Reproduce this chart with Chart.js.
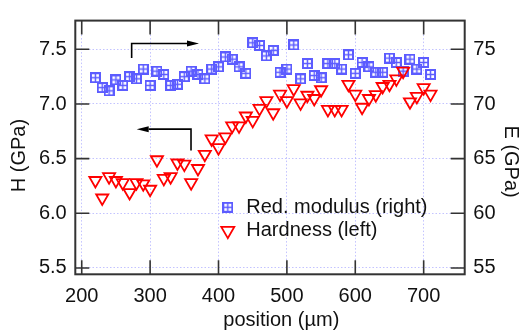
<!DOCTYPE html>
<html><head><meta charset="utf-8">
<script src="https://cdn.jsdelivr.net/npm/chart.js@4/dist/chart.umd.min.js"></script>
<style>html,body{margin:0;padding:0;background:#fff;}#wrap{width:519px;height:331px;}</style>
</head><body><div id="wrap"><canvas id="c" width="519" height="331"></canvas></div>
<script>
// ---- data ----
const positions = [220,230,240,250,260,270,280,290,300,310,320,330,340,350,360,370,380,390,400,410,
                   420,430,440,450,460,470,480,490,500,510,520,530,540,550,560,570,580,590,600,610,
                   620,630,640,650,660,670,680,690,700,710];
const modulus = [72.4,71.5,71.2,72.2,71.7,72.5,72.3,73.2,71.7,73.0,72.7,71.7,71.8,72.5,73.0,72.7,72.3,73.2,73.4,74.3,
                 74.1,73.4,72.8,75.6,75.35,74.4,74.9,72.9,73.2,75.4,72.3,73.7,72.6,72.4,73.7,73.7,73.2,74.5,72.8,73.8,
                 73.4,72.9,72.9,74.2,73.8,73.0,74.1,73.2,73.8,72.7];
const hardness = [6.30,6.14,6.335,6.30,6.28,6.19,6.28,6.27,6.22,6.49,6.32,6.335,6.46,6.45,6.28,6.41,6.54,6.68,6.60,6.70,
                  6.80,6.80,6.89,6.85,6.96,7.03,6.92,7.09,7.03,7.14,7.01,7.08,7.05,7.13,6.95,6.95,6.95,7.18,7.09,6.97,
                  7.05,7.085,7.16,7.18,7.23,7.30,7.02,7.07,7.15,7.09];
const xTicks = [200,300,400,500,600,700];
const hTicks = [5.5,6.0,6.5,7.0,7.5];
const eTicks = [55,60,65,70,75];
const seriesLabels = ['Red. modulus (right)','Hardness (left)'];
const xTitle = 'position (\u00b5m)';
const hTitle = 'H (GPa)';
const eTitle = 'E (GPa)';
// arrow annotations in data units (x, H)
const arrowModulus = [[273,7.421],[273,7.553],[371.5,7.553]];
const arrowHardness = [[359.8,6.574],[359.8,6.770],[280.4,6.770]];

const BLUE = 'rgb(92,92,255)';
const RED = '#ff0000';
const FRAME = '#333333';
const FONT = "'Liberation Sans', Arial, sans-serif";
const FS = 20;
Chart.defaults.font.family = FONT;

// square-with-cross marker
function makeSquare(){
  const c = document.createElement('canvas'); c.width = 11; c.height = 11;
  const g = c.getContext('2d');
  g.strokeStyle = BLUE; g.lineWidth = 2; g.strokeRect(1,1,9,9);
  g.lineWidth = 1.5;
  g.beginPath(); g.moveTo(5.5,1); g.lineTo(5.5,10); g.moveTo(1,5.5); g.lineTo(10,5.5); g.stroke();
  return c;
}
const squareImg = makeSquare();

function triPath(ctx, x, y, r){
  ctx.beginPath();
  for (let k=0;k<3;k++){
    const a = Math.PI + k*2*Math.PI/3;
    const px = x + Math.sin(a)*r, py = y - Math.cos(a)*r;
    if (k===0) ctx.moveTo(px,py); else ctx.lineTo(px,py);
  }
  ctx.closePath();
}

const decor = {
  id:'decor',
  afterDraw(chart){
    const {ctx, chartArea:a, scales} = chart;
    const sx = scales.x, sy = scales.y, sr = scales.yR;
    ctx.save();
    // frame
    ctx.strokeStyle = FRAME; ctx.lineWidth = 2;
    ctx.strokeRect(a.left, a.top, a.right-a.left, a.bottom-a.top);
    // inward ticks
    const TL = 14; ctx.lineWidth = 1.6;
    ctx.beginPath();
    xTicks.forEach(v=>{const p=sx.getPixelForValue(v);
      ctx.moveTo(p,a.bottom); ctx.lineTo(p,a.bottom-TL); ctx.moveTo(p,a.top); ctx.lineTo(p,a.top+TL);});
    hTicks.forEach(v=>{const p=sy.getPixelForValue(v); ctx.moveTo(a.left,p); ctx.lineTo(a.left+TL,p);});
    eTicks.forEach(v=>{const p=sr.getPixelForValue(v); ctx.moveTo(a.right,p); ctx.lineTo(a.right-TL,p);});
    ctx.stroke();
    // arrows
    ctx.strokeStyle = '#000'; ctx.fillStyle = '#000'; ctx.lineWidth = 1.6;
    [arrowModulus, arrowHardness].forEach(path=>{
      const pts = path.map(([x,h])=>[sx.getPixelForValue(x), sy.getPixelForValue(h)]);
      const n = pts.length; const [tx,ty] = pts[n-1]; const [bx,by] = pts[n-2];
      const L = Math.hypot(tx-bx, ty-by); const ux=(tx-bx)/L, uy=(ty-by)/L;
      const HL = 12, HW = 3;
      ctx.beginPath(); ctx.moveTo(pts[0][0],pts[0][1]);
      for (let i=1;i<n-1;i++) ctx.lineTo(pts[i][0],pts[i][1]);
      ctx.lineTo(tx-ux*HL, ty-uy*HL); ctx.stroke();
      ctx.beginPath(); ctx.moveTo(tx,ty);
      ctx.lineTo(tx-ux*HL-uy*HW, ty-uy*HL+ux*HW);
      ctx.lineTo(tx-ux*HL+uy*HW, ty-uy*HL-ux*HW);
      ctx.closePath(); ctx.fill();
    });
    // legend
    const lx = a.left + 152.5, ty1 = a.top + 186.7, ty2 = a.top + 210;
    ctx.drawImage(squareImg, lx-5.5, ty1-5.5);
    ctx.strokeStyle = RED; ctx.lineWidth = 1.8;
    triPath(ctx, lx, ty2, 7.5); ctx.stroke();
    ctx.fillStyle = '#111'; ctx.font = FS + 'px ' + FONT;
    ctx.textAlign = 'left'; ctx.textBaseline = 'middle';
    ctx.fillText(seriesLabels[0], lx + 18.5, ty1);
    ctx.fillText(seriesLabels[1], lx + 18.5, ty2);
    // axis titles
    ctx.textAlign = 'center';
    ctx.fillText(xTitle, a.left + 206, 320);
    ctx.save(); ctx.translate(19.5, a.top + 135); ctx.rotate(-Math.PI/2); ctx.fillText(hTitle,0,0); ctx.restore();
    ctx.save(); ctx.translate(510.5, a.top + 141); ctx.rotate(Math.PI/2); ctx.fillText(eTitle,0,0); ctx.restore();
    ctx.restore();
  }
};

const tickFont = {size:FS};
new Chart(document.getElementById('c'), {
  type:'scatter',
  data:{datasets:[
    {label:seriesLabels[0], yAxisID:'yR', order:1,
     data:positions.map((x,i)=>({x, y:modulus[i]})),
     pointStyle:squareImg, pointRadius:5.5, pointBorderColor:BLUE, pointBackgroundColor:'rgba(0,0,0,0)'},
    {label:seriesLabels[1], yAxisID:'y', order:0,
     data:positions.map((x,i)=>({x, y:hardness[i]})),
     pointStyle:'triangle', pointRotation:180, pointRadius:7, pointBorderWidth:1.8,
     pointBorderColor:RED, pointBackgroundColor:'rgba(0,0,0,0)'}
  ]},
  options:{
    responsive:false, animation:false, devicePixelRatio:1, events:[],
    layout:{padding:{top:9.3, left:0, right:0, bottom:0}},
    plugins:{legend:{display:false}, tooltip:{enabled:false}},
    scales:{
      x:{type:'linear', position:'bottom', min:190.6, max:760,
         afterBuildTicks:s=>{s.ticks = xTicks.map(v=>({value:v}));},
         afterFit:s=>{s.height = 56.7;},
         grid:{color:'rgba(170,170,255,0.7)', lineWidth:1, drawTicks:false},
         border:{display:false, dash:[1.5,2]},
         ticks:{padding:10, color:'#111', font:tickFont, maxRotation:0, callback:v=>String(v)}},
      y:{type:'linear', position:'left', min:5.4422, max:7.7627,
         afterBuildTicks:s=>{s.ticks = hTicks.map(v=>({value:v}));},
         afterFit:s=>{s.width = 75.3;},
         grid:{color:'rgba(170,170,255,0.7)', lineWidth:1, drawTicks:false},
         border:{display:false, dash:[1.5,2]},
         ticks:{padding:8.6, color:'#111', font:tickFont, callback:v=>Number(v).toFixed(1)}},
      yR:{type:'linear', position:'right', min:54.422, max:77.627,
         afterBuildTicks:s=>{s.ticks = eTicks.map(v=>({value:v}));},
         afterFit:s=>{s.width = 54.3;},
         grid:{drawOnChartArea:false, drawTicks:false},
         border:{display:false},
         ticks:{padding:8.6, color:'#111', font:tickFont, callback:v=>String(v)}}
    }
  },
  plugins:[decor]
});
</script></body></html>
